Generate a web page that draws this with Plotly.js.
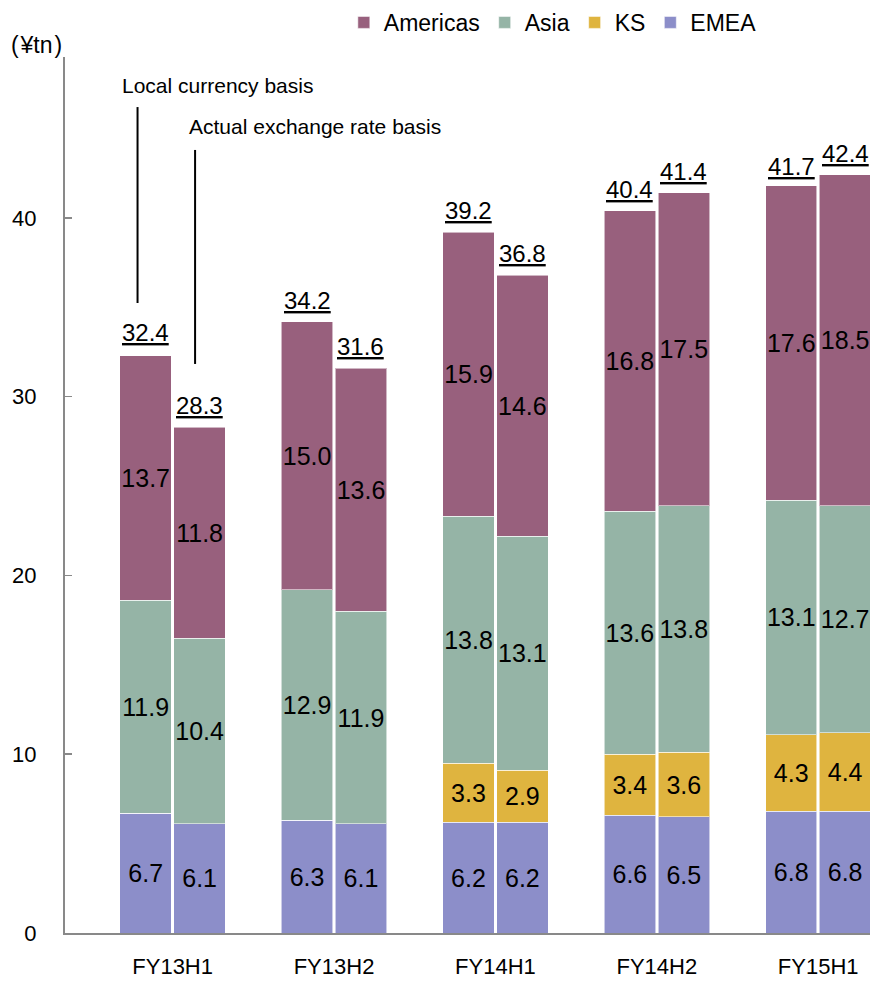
<!DOCTYPE html>
<html>
<head>
<meta charset="utf-8">
<script src="https://cdn.plot.ly/plotly-3.0.1.min.js"></script>
<style>html,body{margin:0;padding:0;background:#fff;}#chart{width:870px;height:982px;}</style>
</head>
<body>
<div id="chart"></div>
<script>
// Data
var periods = ["FY13H1", "FY13H2", "FY14H1", "FY14H2", "FY15H1"];
// each period has two bars: local currency basis, actual exchange rate basis
var emea     = [6.7, 6.1, 6.3, 6.1, 6.2, 6.2, 6.6, 6.5, 6.8, 6.8];
var ks       = [0, 0, 0, 0, 3.3, 2.9, 3.4, 3.6, 4.3, 4.4];
var asia     = [11.9, 10.4, 12.9, 11.9, 13.8, 13.1, 13.6, 13.8, 13.1, 12.7];
var americas = [13.7, 11.8, 15.0, 13.6, 15.9, 14.6, 16.8, 17.5, 17.6, 18.5];
var totals   = [32.4, 28.3, 34.2, 31.6, 39.2, 36.8, 40.4, 41.4, 41.7, 42.4];

var FONT = "Liberation Sans, Arial, sans-serif";
var OFF = 0.167, BW = 0.319;

var xs = [];
for (var i = 0; i < periods.length; i++) { xs.push(i - OFF); xs.push(i + OFF); }

function fmt(arr) { return arr.map(function (v) { return v > 0 ? v.toFixed(1) : ""; }); }

function mk(name, vals, color) {
  return {
    type: "bar", name: name, x: xs, y: vals, width: BW,
    marker: { color: color, line: { color: "rgba(255,255,255,0.55)", width: 1 } },
    text: fmt(vals), textposition: "inside", insidetextanchor: "middle",
    textangle: 0, constraintext: "none",
    textfont: { family: FONT, size: 25, color: "#000" },
    hoverinfo: "skip"
  };
}

var traces = [
  mk("EMEA", emea, "#8C8EC9"),
  mk("KS", ks, "#DFB43F"),
  mk("Asia", asia, "#95B4A6"),
  mk("Americas", americas, "#98607D")
];

var annotations = totals.map(function (t, k) {
  return {
    x: xs[k], y: t, xref: "x", yref: "y", xanchor: "center", yanchor: "bottom",
    yshift: 6, showarrow: false,
    text: '<span style="text-decoration:underline">' + t.toFixed(1) + '</span>',
    font: { family: FONT, size: 24, color: "#000" }
  };
});

annotations.push({
  x: -0.036, y: 1.0137, xref: "paper", yref: "paper", xanchor: "center", yanchor: "middle",
  showarrow: false, text: "(\u200a¥tn\u200a)", font: { family: FONT, size: 23, color: "#000" }
});
annotations.push({
  x: -0.326, y: 47.4, xref: "x", yref: "y", xanchor: "left", yanchor: "middle",
  showarrow: false, text: "Local currency basis", font: { family: FONT, size: 21, color: "#000" }
});
annotations.push({
  x: 0.089, y: 45.1, xref: "x", yref: "y", xanchor: "left", yanchor: "middle",
  showarrow: false, text: "Actual exchange rate basis", font: { family: FONT, size: 21, color: "#000" }
});

var shapes = [
  { type: "line", xref: "x", yref: "y", x0: -0.2175, x1: -0.2175, y0: 46.2, y1: 35.24, line: { color: "#000", width: 2 } },
  { type: "line", xref: "x", yref: "y", x0: 0.139, x1: 0.139, y0: 43.8, y1: 31.83, line: { color: "#000", width: 2 } }
];

var layout = {
  width: 870, height: 982,
  margin: { l: 65, r: 0, t: 57, b: 49 },
  paper_bgcolor: "#fff", plot_bgcolor: "#fff",
  barmode: "stack", bargap: 0,
  font: { family: FONT, size: 22, color: "#000" },
  showlegend: true,
  legend: {
    orientation: "h", x: 0.606, xanchor: "center", y: 1.064, yanchor: "top",
    traceorder: "reversed", font: { family: FONT, size: 23, color: "#000" },
    itemwidth: 30, bgcolor: "rgba(0,0,0,0)"
  },
  xaxis: {
    range: [-0.667, 4.321], tickmode: "array", tickvals: [0, 1, 2, 3, 4], ticktext: periods,
    showline: true, linecolor: "#898989", linewidth: 2, ticks: "", showgrid: false, zeroline: false,
    ticklabelstandoff: 13, tickfont: { family: FONT, size: 22, color: "#000" }, fixedrange: true
  },
  yaxis: {
    range: [0, 49], tickvals: [0, 10, 20, 30, 40], showline: true, linecolor: "#898989", linewidth: 2,
    ticks: "inside", ticklen: 7, tickcolor: "#898989", tickwidth: 1.5, showgrid: false, zeroline: false,
    ticklabelstandoff: 22, tickfont: { family: FONT, size: 22, color: "#000" }, fixedrange: true
  },
  annotations: annotations,
  shapes: shapes
};

Plotly.newPlot("chart", traces, layout, { displayModeBar: false, staticPlot: true });
</script>
</body>
</html>
